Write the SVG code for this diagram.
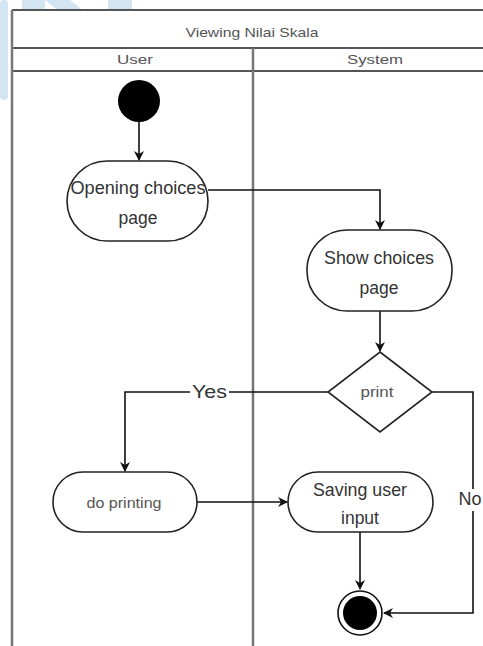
<svg xmlns="http://www.w3.org/2000/svg" width="483" height="646" viewBox="0 0 483 646">
  <defs>
    <style>
      .frame { fill: none; stroke: #555; stroke-width: 2; }
      .lane { fill: none; stroke: #777; stroke-width: 2.5; }
      .node { fill: #fff; stroke: #222; stroke-width: 1.6; }
      .edge { fill: none; stroke: #111; stroke-width: 1.6; }
      .hdr { font-family: "Liberation Sans", Arial, sans-serif; font-size: 13px; fill: #555; text-anchor: middle; }
      .lbl { font-family: "Liberation Sans", Arial, sans-serif; font-size: 17.5px; fill: #333; text-anchor: middle; }
      .sm { font-family: "Liberation Sans", Arial, sans-serif; font-size: 14px; fill: #555; text-anchor: middle; }
      .guard { font-family: "Liberation Sans", Arial, sans-serif; font-size: 18px; fill: #333; text-anchor: middle; }
      .mark { fill: #d3e4f3; }
    </style>
    <marker id="arrow" viewBox="0 0 10 10" refX="9" refY="5" markerWidth="10" markerHeight="10" markerUnits="userSpaceOnUse" orient="auto">
      <path d="M0,0 L10,5 L0,10 L3,5 Z" fill="#111"/>
    </marker>
  </defs>

  <rect width="483" height="646" fill="#fff"/>

  <!-- background mark -->
  <g id="backdrop">
    <rect class="mark" x="0" y="0" width="8" height="100" rx="4"/>
    <rect class="mark" x="22" y="0" width="23" height="12"/>
    <polygon class="mark" points="45,0 70,0 85,12 60,12"/>
    <rect class="mark" x="108" y="0" width="24" height="12"/>
  </g>

  <!-- swimlane frame -->
  <g id="pool">
    <rect x="12" y="10" width="485" height="640" fill="#fff"/>
    <line class="frame" x1="12" y1="10" x2="497" y2="10"/>
    <line class="frame" x1="12" y1="48" x2="497" y2="48"/>
    <line class="frame" x1="12" y1="71" x2="497" y2="71"/>
    <line class="lane" x1="12" y1="10" x2="12" y2="646"/>
    <line class="lane" x1="253" y1="48" x2="253" y2="646"/>
    <text class="hdr" x="252" y="37" textLength="133" lengthAdjust="spacingAndGlyphs">Viewing Nilai Skala</text>
    <text class="hdr" x="135" y="64" textLength="36" lengthAdjust="spacingAndGlyphs">User</text>
    <text class="hdr" x="375" y="64" textLength="56" lengthAdjust="spacingAndGlyphs">System</text>
  </g>

  <!-- connectors -->
  <g id="connectors">
    <line class="edge" x1="139" y1="122" x2="139" y2="160" marker-end="url(#arrow)"/>
    <polyline class="edge" points="208,190 380,190 380,229" marker-end="url(#arrow)"/>
    <line class="edge" x1="380" y1="311" x2="380" y2="351" marker-end="url(#arrow)"/>
    <polyline class="edge" points="328,392 125,392 125,471" marker-end="url(#arrow)"/>
    <line class="edge" x1="197" y1="502" x2="287" y2="502" marker-end="url(#arrow)"/>
    <line class="edge" x1="360" y1="532" x2="360" y2="589" marker-end="url(#arrow)"/>
    <polyline class="edge" points="432,392 473,392 473,613 384,613" marker-end="url(#arrow)"/>
    <rect x="190" y="382" width="39" height="20" fill="#fff"/>
    <text class="guard" x="209.5" y="398" textLength="35" lengthAdjust="spacingAndGlyphs">Yes</text>
    <rect x="458" y="489" width="27" height="22" fill="#fff"/>
    <text class="guard" x="470" y="505">No</text>
  </g>

  <g id="start">
    <circle cx="139" cy="101" r="21" fill="#000"/>
  </g>

  <g id="opening-choices">
    <rect class="node" x="67" y="161" width="141" height="80" rx="40"/>
    <text class="lbl" x="138" y="194" textLength="135" lengthAdjust="spacingAndGlyphs">Opening choices</text>
    <text class="lbl" x="138" y="224">page</text>
  </g>

  <g id="show-choices">
    <rect class="node" x="307" y="230" width="145" height="81" rx="40"/>
    <text class="lbl" x="379" y="264" textLength="110" lengthAdjust="spacingAndGlyphs">Show choices</text>
    <text class="lbl" x="379" y="294">page</text>
  </g>

  <g id="print-decision">
    <polygon class="node" points="380,352 432,392 380,432 328,392"/>
    <text class="sm" x="377" y="397" textLength="33" lengthAdjust="spacingAndGlyphs">print</text>
  </g>

  <g id="do-printing">
    <rect class="node" x="53" y="472" width="144" height="60" rx="30"/>
    <text class="sm" x="124" y="508" textLength="75" lengthAdjust="spacingAndGlyphs">do printing</text>
  </g>

  <g id="saving-input">
    <rect class="node" x="288" y="472" width="145" height="60" rx="30"/>
    <text class="lbl" x="360" y="496" textLength="94" lengthAdjust="spacingAndGlyphs">Saving user</text>
    <text class="lbl" x="360" y="524">input</text>
  </g>

  <g id="end">
    <circle cx="360" cy="613" r="22" fill="#fff" stroke="#111" stroke-width="1.6"/>
    <circle cx="360" cy="613" r="17" fill="#000"/>
  </g>
</svg>
